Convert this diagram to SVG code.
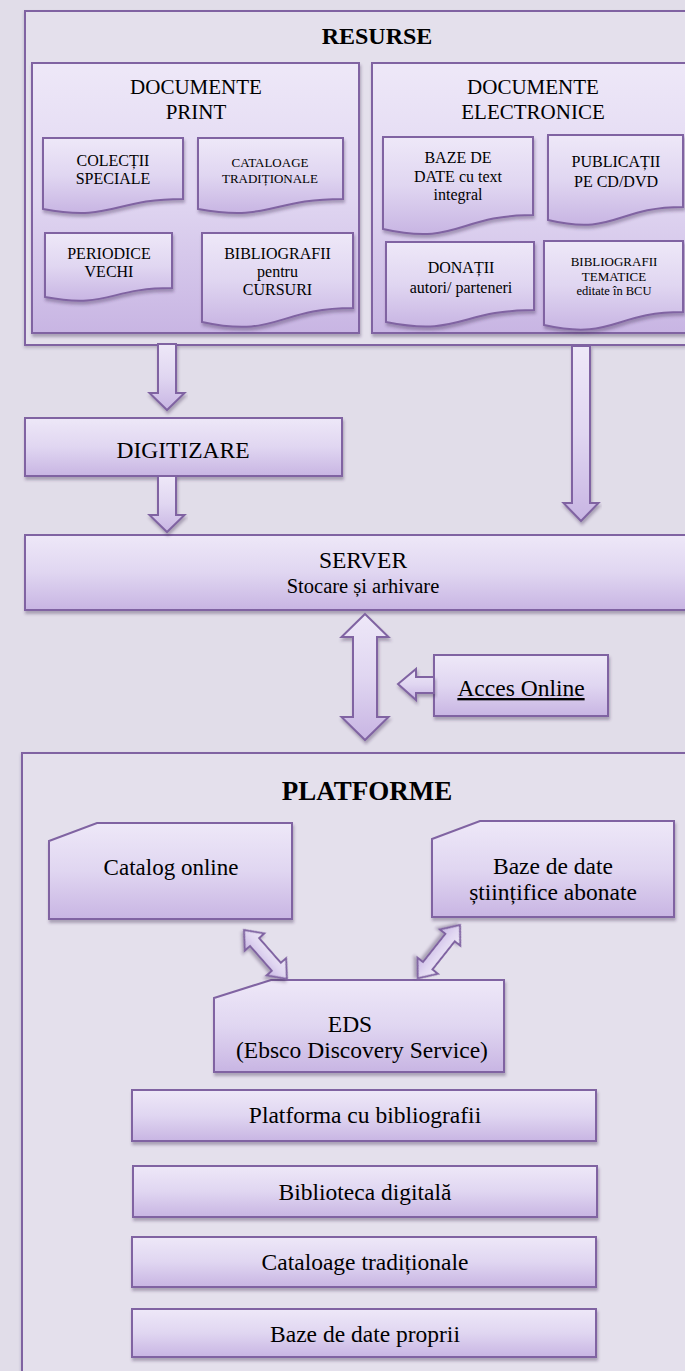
<svg xmlns="http://www.w3.org/2000/svg" width="685" height="1371" viewBox="0 0 685 1371">
<defs>
<linearGradient id="g" x1="0" y1="0" x2="0" y2="1">
<stop offset="0" stop-color="#EEE8F8"/>
<stop offset="0.5" stop-color="#E0D6F1"/>
<stop offset="1" stop-color="#C8B5E3"/>
</linearGradient>
<linearGradient id="gh" x1="0" y1="0" x2="1" y2="0">
<stop offset="0" stop-color="#EEE8F8"/>
<stop offset="1" stop-color="#C8B5E3"/>
</linearGradient>
<filter id="sh" x="-10%" y="-10%" width="120%" height="130%">
<feDropShadow dx="1" dy="3" stdDeviation="1.6" flood-color="#3a2a50" flood-opacity="0.35"/>
</filter>
<filter id="shl" x="-5%" y="-5%" width="110%" height="110%">
<feDropShadow dx="0" dy="2" stdDeviation="1.5" flood-color="#3a2a50" flood-opacity="0.25"/>
</filter>
</defs>
<style>
.c{fill:#E4E0EC;stroke:#8064A2;stroke-width:2}
.n{fill:url(#g);stroke:#8064A2;stroke-width:2;filter:url(#sh)}
.a{fill:url(#g);stroke:#8064A2;stroke-width:2;filter:url(#sh)}
text{font-family:"Liberation Serif","Times New Roman",serif;fill:#000;text-anchor:middle}
.t{font-weight:bold}
</style>
<rect x="0" y="0" width="685" height="1371" fill="#E1DDE9"/>

<g id="resurse">
<rect class="c" x="25" y="11" width="700" height="334" filter="url(#shl)"/>
<text class="t" x="377" y="44" font-size="24">RESURSE</text>
</g>

<g id="documente-print">
<rect class="n" x="32" y="63" width="327" height="270"/>
<text x="196" y="94" font-size="21">DOCUMENTE</text>
<text x="196" y="119" font-size="21">PRINT</text>
</g>
<g id="documente-electronice">
<rect class="n" x="372" y="63" width="340" height="270"/>
<text x="533" y="94" font-size="21">DOCUMENTE</text>
<text x="533" y="119" font-size="21">ELECTRONICE</text>
</g>

<g id="colectii">
<path class="n" d="M43 138H183V199C113 199 113 222 43 209Z"/>
<text x="113" y="166" font-size="16">COLECȚII</text>
<text x="113" y="184" font-size="16">SPECIALE</text>
</g>
<g id="cataloage-traditionale-doc">
<path class="n" d="M198 138H343V199C270.5 199 270.5 222 198 209Z"/>
<text x="270" y="167" font-size="13">CATALOAGE</text>
<text x="270" y="183" font-size="13">TRADIȚIONALE</text>
</g>
<g id="periodice">
<path class="n" d="M45 233H172V288C108.5 288 108.5 309 45 297Z"/>
<text x="109" y="259" font-size="16">PERIODICE</text>
<text x="109" y="277" font-size="16">VECHI</text>
</g>
<g id="bibliografii-cursuri">
<path class="n" d="M202 233H353V308C277.5 308 277.5 338.5 202 322Z"/>
<text x="277.5" y="259" font-size="16">BIBLIOGRAFII</text>
<text x="277.5" y="277" font-size="16">pentru</text>
<text x="277.5" y="295" font-size="16">CURSURI</text>
</g>
<g id="baze-text-integral">
<path class="n" d="M383 137H533V215C458 215 458 246 383 229Z"/>
<text x="458" y="163" font-size="16">BAZE DE</text>
<text x="458" y="182" font-size="16">DATE cu text</text>
<text x="458" y="200" font-size="16">integral</text>
</g>
<g id="publicatii">
<path class="n" d="M548 135H683V207C615.5 207 615.5 236 548 220Z"/>
<text x="616" y="167" font-size="16">PUBLICAȚII</text>
<text x="616" y="187" font-size="16">PE CD/DVD</text>
</g>
<g id="donatii">
<path class="n" d="M386 242H534V310C460 310 460 337 386 322Z"/>
<text x="461" y="273" font-size="16">DONAȚII</text>
<text x="461" y="293" font-size="16">autori/ parteneri</text>
</g>
<g id="bibliografii-tematice">
<path class="n" d="M544 241H683V312C613.5 312 613.5 340.6 544 325Z"/>
<text x="614" y="266" font-size="13">BIBLIOGRAFII</text>
<text x="614" y="281" font-size="13">TEMATICE</text>
<text x="614" y="295" font-size="12.5">editate în BCU</text>
</g>

<g id="digitizare">
<rect class="n" x="25" y="418" width="317" height="58"/>
<text x="183" y="458" font-size="23.5">DIGITIZARE</text>
</g>

<g id="server">
<rect class="n" x="25" y="535" width="700" height="75"/>
<text x="363" y="568" font-size="23.5">SERVER</text>
<text x="363" y="593" font-size="20.5">Stocare și arhivare</text>
</g>

<g id="acces-online">
<rect class="n" x="434" y="655" width="174" height="61"/>
<text x="521" y="696" font-size="23.5" text-decoration="underline">Acces Online</text>
</g>

<g id="platforme">
<rect class="c" x="22" y="753" width="700" height="640" filter="url(#shl)"/>
<text class="t" x="367" y="800" font-size="27">PLATFORME</text>
</g>

<g id="catalog-online">
<path class="n" d="M49 841L97 823H292V919H49Z"/>
<text x="171" y="875" font-size="23">Catalog online</text>
</g>
<g id="baze-stiintifice">
<path class="n" d="M432 839L480 821H674V917H432Z"/>
<text x="553" y="874" font-size="23.5">Baze de date</text>
<text x="553" y="900" font-size="23.5">științifice abonate</text>
</g>
<g id="eds">
<path class="n" d="M214 998L271 980H504V1072H214Z"/>
<text x="350" y="1032" font-size="23.5">EDS</text>
<text x="362" y="1058" font-size="23.5">(Ebsco Discovery Service)</text>
</g>

<g id="platforma-bibliografii">
<rect class="n" x="132" y="1090" width="464" height="51"/>
<text x="365" y="1123" font-size="23.5">Platforma cu bibliografii</text>
</g>
<g id="biblioteca-digitala">
<rect class="n" x="133" y="1166" width="464" height="51"/>
<text x="365" y="1200" font-size="23.5">Biblioteca digitală</text>
</g>
<g id="cataloage-traditionale">
<rect class="n" x="132" y="1237" width="464" height="50"/>
<text x="365" y="1270" font-size="23.5">Cataloage tradiționale</text>
</g>
<g id="baze-proprii">
<rect class="n" x="132" y="1309" width="464" height="48"/>
<text x="365" y="1342" font-size="23.5">Baze de date proprii</text>
</g>

<g id="connectors">
<polygon class="a" points="158,344 176,344 176,393 184.5,393 167,410 149.5,393 158,393"/>
<polygon class="a" points="158,476 176,476 176,515 184.5,515 167,532 149.5,515 158,515"/>
<polygon class="a" points="572,346 590,346 590,503 598.5,503 581,521 563.5,503 572,503"/>
<polygon class="a" points="365,614 388.5,637 377,637 377,717 388.5,717 365,740 341.5,717 353,717 353,637 341.5,637"/>
<polygon class="a" points="398,684 416,669 416,677 434,677 434,693 416,693 416,700"/>
<polygon class="a" transform="translate(244,930) rotate(48.7)" points="0,0 16,-13 16,-6 49,-6 49,-13 65,0 49,13 49,6 16,6 16,13"/>
<polygon class="a" transform="translate(460,925) rotate(128.4)" points="0,0 16,-13 16,-6 52,-6 52,-13 68,0 52,13 52,6 16,6 16,13"/>
</g>
</svg>
